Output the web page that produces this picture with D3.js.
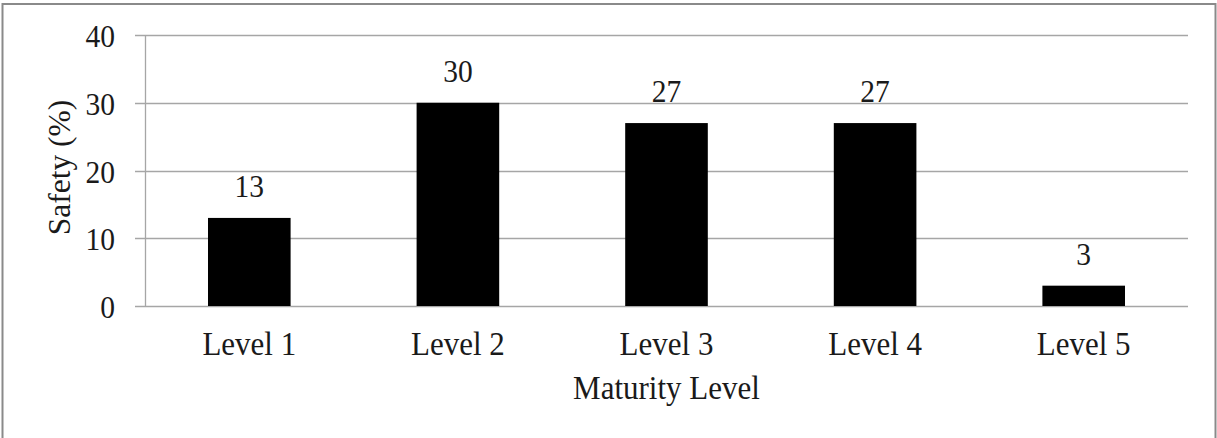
<!DOCTYPE html>
<html>
<head>
<meta charset="utf-8">
<script src="https://cdn.jsdelivr.net/npm/d3@7"></script>
<style>
  html, body { margin: 0; padding: 0; background: #fff; }
  svg { display: block; }
</style>
</head>
<body>
<svg id="chart" width="1217" height="438"></svg>
<script>
const categories = ["Level 1", "Level 2", "Level 3", "Level 4", "Level 5"];
const values = [13, 30, 27, 27, 3];
const yTicks = [0, 10, 20, 30, 40];
const xTitle = "Maturity Level";
const yTitle = "Safety (%)";

const FONT = "Liberation Serif";
const TEXT = "#1a1a1a";
const SY = 1.07; // slight vertical stretch seen in the reference glyphs
const svg = d3.select("#chart");
const W = 1217, H = 438;
const plot = { left: 145, right: 1188, top: 35, bottom: 306 };

svg.append("rect").attr("width", W).attr("height", H).attr("fill", "#fff");
// outer frame
svg.append("rect")
  .attr("x", 2.5).attr("y", 4).attr("width", 1213).attr("height", H + 10)
  .attr("fill", "none").attr("stroke", "#8a8a8a").attr("stroke-width", 2);

const x = d3.scaleBand().domain(categories).range([plot.left, plot.right])
  .paddingInner(0.604).paddingOuter(0.302);
const y = d3.scaleLinear().domain([0, 40]).range([plot.bottom, plot.top]);

// gridlines (with tick stubs to the left of the axis)
svg.append("g").selectAll("line").data(yTicks).join("line")
  .attr("x1", plot.left - 10).attr("x2", plot.right)
  .attr("y1", d => Math.round(y(d)) + 0.5).attr("y2", d => Math.round(y(d)) + 0.5)
  .attr("stroke", "#a6a6a6").attr("stroke-width", 1.3);

// y axis line
svg.append("line")
  .attr("x1", plot.left + 0.5).attr("x2", plot.left + 0.5)
  .attr("y1", y(40)).attr("y2", y(0))
  .attr("stroke", "#a6a6a6").attr("stroke-width", 1.3);

// y tick labels
svg.append("g").selectAll("text").data(yTicks).join("text")
  .attr("transform", d => `translate(115,${y(d) + 1}) scale(1,${SY})`)
  .attr("dy", "0.35em")
  .attr("text-anchor", "end")
  .attr("font-family", FONT).attr("fill", TEXT)
  .attr("font-size", 29.5)
  .text(d => d);

// bars
svg.append("g").selectAll("rect").data(values).join("rect")
  .attr("x", (d, i) => x(categories[i]))
  .attr("y", d => y(d))
  .attr("width", x.bandwidth())
  .attr("height", d => y(0) - y(d))
  .attr("fill", "#000");

// value labels
svg.append("g").selectAll("text").data(values).join("text")
  .attr("transform", (d, i) => `translate(${x(categories[i]) + x.bandwidth() / 2},${y(d) - 21}) scale(1,${SY})`)
  .attr("text-anchor", "middle")
  .attr("font-family", FONT).attr("fill", TEXT)
  .attr("font-size", 29.5)
  .text(d => d);

// category labels
svg.append("g").selectAll("text").data(categories).join("text")
  .attr("transform", d => `translate(${x(d) + x.bandwidth() / 2},355) scale(1,${SY})`)
  .attr("text-anchor", "middle")
  .attr("font-family", FONT).attr("fill", TEXT)
  .attr("font-size", 31)
  .text(d => d);

// x title
svg.append("text")
  .attr("transform", `translate(${(plot.left + plot.right) / 2},399) scale(1,${SY})`)
  .attr("text-anchor", "middle")
  .attr("font-family", FONT).attr("fill", TEXT)
  .attr("font-size", 31)
  .text(xTitle);

// y title
svg.append("text")
  .attr("transform", `translate(70,${(plot.top + plot.bottom) / 2 - 3}) rotate(-90)`)
  .attr("text-anchor", "middle")
  .attr("font-family", FONT).attr("fill", TEXT)
  .attr("font-size", 31.5)
  .text(yTitle);
</script>
</body>
</html>
